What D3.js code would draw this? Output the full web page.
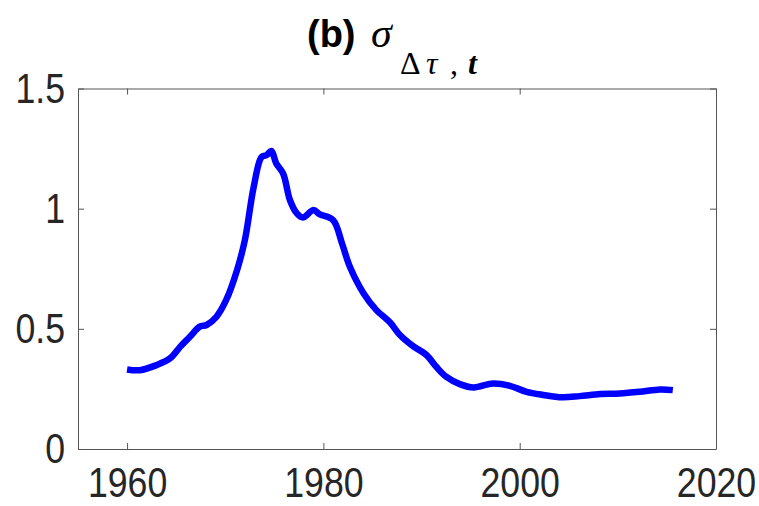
<!DOCTYPE html>
<html>
<head>
<meta charset="utf-8">
<script src="https://cdn.jsdelivr.net/npm/d3@7"></script>
<style>
  body { margin: 0; background: #fff; }
  svg { display: block; }
</style>
</head>
<body>
<script>
// values (year, sigma)
var years = [1960.0, 1961.3, 1963.0, 1964.4, 1965.4, 1966.4, 1967.4, 1968.1, 1969.1, 1970.1,
             1971.2, 1972.0, 1972.9, 1973.7, 1974.2, 1974.7, 1975.2, 1975.9, 1976.6, 1977.3,
             1977.9, 1979.0, 1979.6, 1981.0, 1981.9, 1982.7, 1984.1, 1985.4, 1986.8, 1987.8,
             1989.0, 1990.5, 1991.5, 1992.5, 1993.9, 1995.3, 1997.3, 1999.0, 2000.7, 2002.4,
             2004.3, 2006.1, 2008.2, 2010.2, 2012.2, 2014.3, 2015.6];
var sigma = [0.331, 0.328, 0.349, 0.378, 0.425, 0.467, 0.509, 0.516, 0.55, 0.62,
             0.744, 0.869, 1.09, 1.215, 1.222, 1.240, 1.188, 1.146, 1.035, 0.98,
             0.963, 0.994, 0.977, 0.952, 0.855, 0.758, 0.647, 0.578, 0.526, 0.474,
             0.432, 0.391, 0.342, 0.301, 0.270, 0.256, 0.273, 0.263, 0.238, 0.225,
             0.215, 0.220, 0.229, 0.231, 0.238, 0.248, 0.245];
var xTicks = [1960, 1980, 2000, 2020];
var yTicks = [0, 0.5, 1, 1.5];

var width = 759, height = 506;
var pLeft = 78, pRight = 716, pTop = 88.5, pBottom = 449;

var svg = d3.select("body").append("svg")
    .attr("width", width)
    .attr("height", height);

var x = d3.scaleLinear().domain([1955, 2020]).range([pLeft, pRight]);
var y = d3.scaleLinear().domain([0, 1.5]).range([pBottom, pTop]);

var axisColor = "#555", textColor = "#262626", squeeze = 0.83;

function styleAxis(g) {
    g.select(".domain").attr("stroke", axisColor);
    g.selectAll(".tick line").attr("stroke", axisColor);
    g.selectAll(".tick text")
        .attr("fill", textColor)
        .style("font-family", "'Liberation Sans', Arial, sans-serif")
        .style("font-size", "43px");
}

// bottom axis
var gx = svg.append("g")
    .attr("transform", "translate(0," + pBottom + ")")
    .call(d3.axisBottom(x).tickValues(xTicks).tickFormat(d3.format("d"))
        .tickSizeInner(-6).tickSizeOuter(0).tickPadding(17))
    .call(styleAxis);
gx.selectAll(".tick text").attr("transform", "scale(" + squeeze + ",1)");

// left axis
var gy = svg.append("g")
    .attr("transform", "translate(" + pLeft + ",0)")
    .call(d3.axisLeft(y).tickValues(yTicks).tickFormat(function(d) { return String(d); })
        .tickSizeInner(-6).tickSizeOuter(0).tickPadding(13))
    .call(styleAxis);
gy.selectAll(".tick text")
    .attr("x", -13 / squeeze)
    .attr("transform", "scale(" + squeeze + ",1)");

// top and right box with inward ticks, no labels
svg.append("g")
    .attr("transform", "translate(0," + pTop + ")")
    .call(d3.axisTop(x).tickValues(xTicks).tickFormat("").tickSizeInner(-6).tickSizeOuter(0))
    .call(styleAxis);
svg.append("g")
    .attr("transform", "translate(" + pRight + ",0)")
    .call(d3.axisRight(y).tickValues(yTicks).tickFormat("").tickSizeInner(-6).tickSizeOuter(0))
    .call(styleAxis);

// the series
var line = d3.line()
    .x(function(d, i) { return x(years[i]); })
    .y(function(d) { return y(d); })
    .curve(d3.curveCatmullRom.alpha(0.5));

svg.append("path")
    .datum(sigma)
    .attr("fill", "none")
    .attr("stroke", "#0000ff")
    .attr("stroke-width", 6.5)
    .attr("stroke-linejoin", "round")
    .attr("d", line);

// title: (b) sigma_{Δτ , t}
var title = svg.append("text")
    .attr("fill", "#000")
    .attr("y", 47);
title.append("tspan")
    .attr("x", 307)
    .style("font-family", "'Liberation Sans', Arial, sans-serif")
    .style("font-weight", "bold")
    .style("font-size", "38px")
    .text("(b)");
title.append("tspan")
    .attr("x", 371)
    .style("font-family", "'Liberation Serif', 'Times New Roman', serif")
    .style("font-style", "italic")
    .style("font-size", "42px")
    .text("σ");
var sub = svg.append("text")
    .attr("fill", "#000")
    .attr("y", 74)
    .style("font-family", "'Liberation Serif', 'Times New Roman', serif")
    .style("font-size", "32px");
sub.append("tspan").attr("x", 400).text("Δ");
sub.append("tspan").attr("x", 426).style("font-style", "italic").text("τ");
sub.append("tspan").attr("x", 450).text(",");
sub.append("tspan").attr("x", 468).style("font-style", "italic").style("font-weight", "bold").text("t");
</script>
</body>
</html>
